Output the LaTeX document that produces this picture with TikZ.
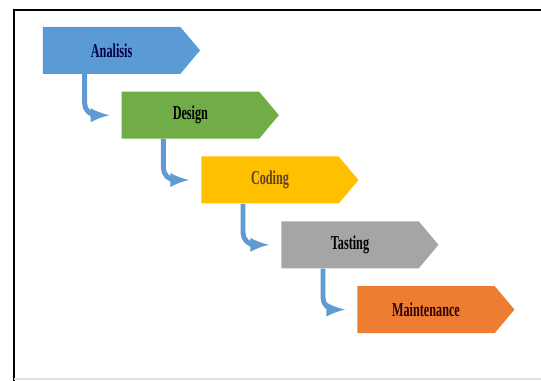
\documentclass[tikz,border=0pt]{standalone}
\usepackage{fontspec}
\newfontfamily\stepfont[FakeStretch=0.62]{Liberation Serif}
\usepackage{tikz}
\usetikzlibrary{shapes.symbols, arrows}
\definecolor{bluestep}{HTML}{5B9BD5}
\definecolor{greenstep}{HTML}{70AD47}
\definecolor{goldstep}{HTML}{FFC000}
\definecolor{graystep}{HTML}{A5A5A5}
\definecolor{orangestep}{HTML}{ED7D31}
\definecolor{arrowblue}{HTML}{5F9AD3}
\tikzstyle{arrow} = [line width=3.5pt,->,>=latex,color=arrowblue,rounded corners=0.3cm]
\tikzstyle{phase} = [signal, signal to=east, signal pointer angle=100, minimum width=3.93cm, minimum height=1.175cm, inner sep=0pt, text centered, font=\stepfont\bfseries\fontsize{14}{14}\selectfont]

\begin{document}
\begin{tikzpicture}[node distance=1.62cm]
		\useasboundingbox (0,0) rectangle (13.525,-9.525);
		% frame
		\draw [line width=1.5pt] (13.525,-0.24) -- (0.35,-0.24) -- (0.35,-9.525);
		\draw [line width=1pt, black!12] (0.35,-9.48) -- (13.525,-9.48);
		\node (analisis) [phase, fill=bluestep, text=blue!30!black] at (2.79,-1.26) {Analisis};
		\node (design) [phase, fill=greenstep, text=black, below of=analisis, xshift=1.97cm] {Design};
		\node (coding) [phase, fill=goldstep, text=brown!50!black, below of=design, xshift=1.99cm] {Coding};
		\node (tasting) [phase, fill=graystep, text=black, below of=coding, xshift=2cm] {Tasting};
		\node (maintenance) [phase, fill=orangestep, text=black!80!red, below of=tasting, xshift=1.9cm] {Maintenance};
		\draw [arrow] ([xshift=1.05cm]analisis.south west) |- ([xshift=-0.3cm]design.west);
		\draw [arrow] ([xshift=1.05cm]design.south west) |- ([xshift=-0.3cm]coding.west);
		\draw [arrow] ([xshift=1.05cm]coding.south west) |- ([xshift=-0.3cm]tasting.west);
		\draw [arrow] ([xshift=1.05cm]tasting.south west) |- ([xshift=-0.3cm]maintenance.west);
	\end{tikzpicture}
\end{document}
